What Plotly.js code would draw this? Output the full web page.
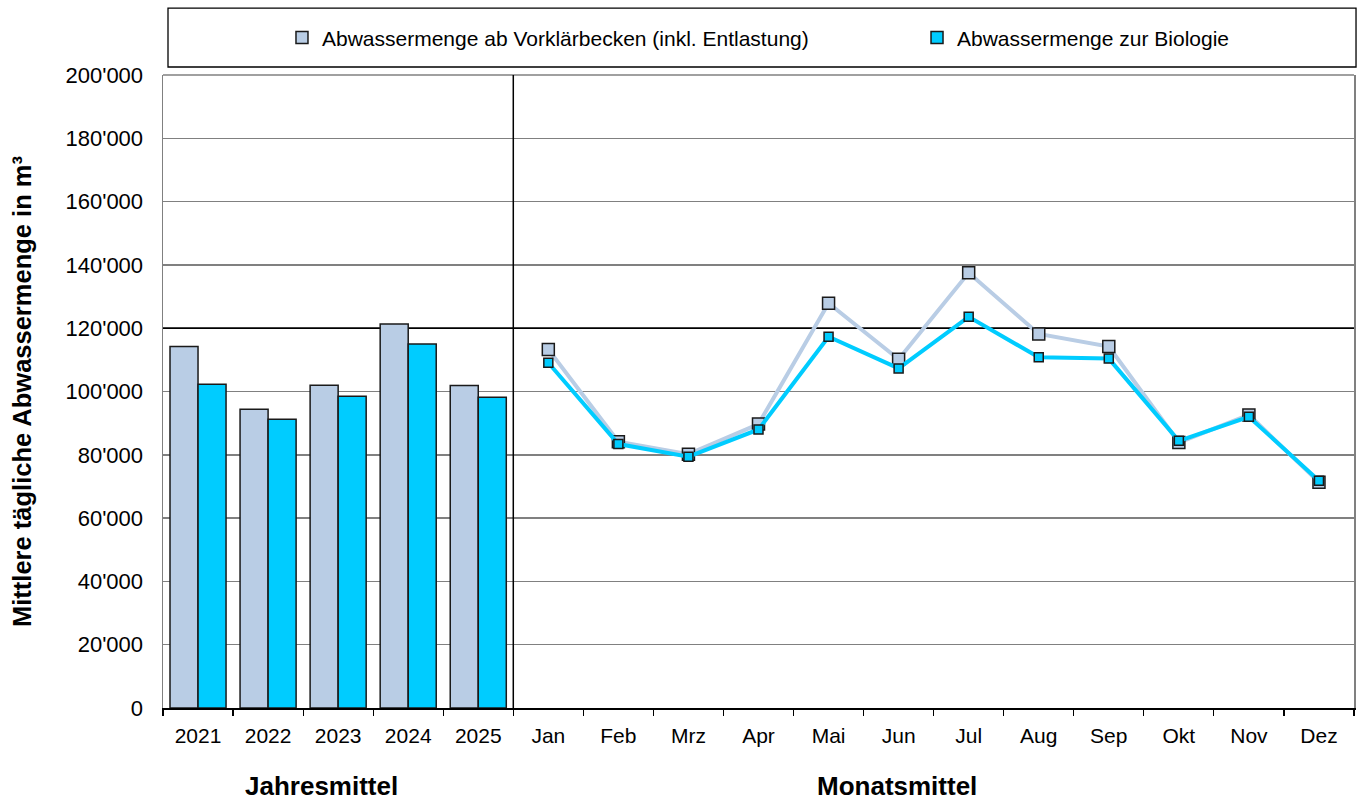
<!DOCTYPE html>
<html>
<head>
<meta charset="utf-8">
<script src="https://cdn.plot.ly/plotly-3.0.1.min.js"></script>
<style>
  html, body { margin: 0; padding: 0; background: #ffffff; }
  #chart { width: 1363px; height: 803px; }
</style>
</head>
<body>
<div id="chart"></div>
<script>
// ---- Data ----
const years = ["2021", "2022", "2023", "2024", "2025"];
const months = ["Jan", "Feb", "Mrz", "Apr", "Mai", "Jun", "Jul", "Aug", "Sep", "Okt", "Nov", "Dez"];

const seriesNames = ["Abwassermenge ab Vorklärbecken (inkl. Entlastung)", "Abwassermenge zur Biologie"];

// Jahresmittel (bars)
const yearlyVorklaer = [114200, 94400, 102000, 121300, 101900];
const yearlyBiologie = [102300, 91200, 98500, 115000, 98200];

// Monatsmittel (lines)
const monthlyVorklaer = [113300, 84100, 80200, 89700, 127900, 110200, 137500, 118200, 114200, 83900, 92600, 71300];
const monthlyBiologie = [109100, 83400, 79400, 88000, 117300, 107300, 123600, 110800, 110400, 84400, 92000, 71800];

const groupLabels = ["Jahresmittel", "Monatsmittel"];
const yTitle = "Mittlere tägliche Abwassermenge in m³";
const referenceLevel = 120000;

// ---- Styles ----
const cLight = "#B9CDE5";
const cCyan = "#00CCFF";
const edge = "#1a1a1a";
const FONT = "'Liberation Sans', Arial, Helvetica, sans-serif";

const categories = years.concat(months);
const nCat = categories.length;

const traces = [
  {
    type: "bar", name: seriesNames[0], x: years, y: yearlyVorklaer,
    legend: "legend",
    marker: { color: cLight, line: { color: edge, width: 1.5 } },
    hoverinfo: "skip"
  },
  {
    type: "bar", name: seriesNames[1], x: years, y: yearlyBiologie,
    legend: "legend2",
    marker: { color: cCyan, line: { color: edge, width: 1.5 } },
    hoverinfo: "skip"
  },
  {
    type: "scatter", mode: "lines+markers", name: seriesNames[0], x: months, y: monthlyVorklaer,
    showlegend: false,
    line: { color: cLight, width: 4 },
    marker: { symbol: "square", size: 12, color: cLight, line: { color: edge, width: 1.5 } },
    hoverinfo: "skip"
  },
  {
    type: "scatter", mode: "lines+markers", name: seriesNames[1], x: months, y: monthlyBiologie,
    showlegend: false,
    line: { color: cCyan, width: 4 },
    marker: { symbol: "square", size: 9, color: cCyan, line: { color: edge, width: 1.5 } },
    hoverinfo: "skip"
  }
];

const legendCommon = {
  orientation: "h",
  xanchor: "left",
  yanchor: "middle",
  bgcolor: "rgba(0,0,0,0)",
  borderwidth: 0,
  font: { family: FONT, size: 21, color: "#000000" }
};

const layout = {
  width: 1363, height: 803,
  margin: { l: 163, r: 9, t: 75, b: 95, autoexpand: false },
  paper_bgcolor: "#ffffff",
  plot_bgcolor: "#ffffff",
  font: { family: FONT, size: 21, color: "#000000" },
  separators: ".'",
  barmode: "group",
  bargap: 0.2,
  bargroupgap: 0,
  showlegend: true,
  legend: Object.assign({}, legendCommon, { x: 0.0999, y: 1.0585 }),
  legend2: Object.assign({}, legendCommon, { x: 0.6331, y: 1.0585 }),
  xaxis: {
    type: "category",
    categoryorder: "array",
    categoryarray: categories,
    range: [-0.5, nCat - 0.5],
    tickson: "boundaries",
    ticks: "outside", ticklen: 6, tickwidth: 1.2, tickcolor: "#000000",
    showline: true, linecolor: "#000000", linewidth: 1.5,
    showgrid: false,
    ticklabelstandoff: 8,
    tickfont: { family: FONT, size: 21, color: "#000000" },
    fixedrange: true
  },
  yaxis: {
    range: [0, 200000],
    dtick: 20000,
    tick0: 0,
    tickformat: ",d",
    showline: true, linecolor: "#808080", linewidth: 1.5, mirror: true,
    showgrid: true, gridcolor: "#808080", gridwidth: 1.5,
    zeroline: false,
    ticks: "",
    ticklabelstandoff: 14,
    tickfont: { family: FONT, size: 22, color: "#000000" },
    title: { text: yTitle, font: { family: FONT, size: 25.5, color: "#000000", weight: "bold" }, standoff: 26 },
    fixedrange: true
  },
  shapes: [
    // legend frame
    { type: "rect", xref: "paper", yref: "paper", x0: 0.0042, x1: 1.0017, y0: 1.0126, y1: 1.1058,
      line: { color: "#000000", width: 1.3 }, fillcolor: "rgba(0,0,0,0)", layer: "above" },
    // top border
    { type: "line", xref: "paper", yref: "paper", x0: 0, x1: 1, y0: 1, y1: 1,
      line: { color: "#808080", width: 1.5 } },
    // reference line at 120'000 (between gridlines and traces)
    { type: "line", xref: "x", yref: "y", x0: -0.5, x1: nCat - 0.5, y0: referenceLevel, y1: referenceLevel,
      line: { color: "#000000", width: 1.5 }, layer: "between" },
    // separator between Jahresmittel and Monatsmittel
    { type: "line", xref: "x", yref: "paper", x0: years.length - 0.5, x1: years.length - 0.5, y0: 0, y1: 1,
      line: { color: "#000000", width: 1.5 } }
  ],
  annotations: [
    { text: "<b>" + groupLabels[0] + "</b>", xref: "paper", yref: "paper",
      x: 0.133, y: (708 - 786) / 633, xanchor: "center", yanchor: "middle",
      showarrow: false, font: { family: FONT, size: 26, color: "#000000" } },
    { text: "<b>" + groupLabels[1] + "</b>", xref: "paper", yref: "paper",
      x: 0.616, y: (708 - 786) / 633, xanchor: "center", yanchor: "middle",
      showarrow: false, font: { family: FONT, size: 26, color: "#000000" } }
  ]
};

Plotly.newPlot("chart", traces, layout, { staticPlot: true, displayModeBar: false });
</script>
</body>
</html>
